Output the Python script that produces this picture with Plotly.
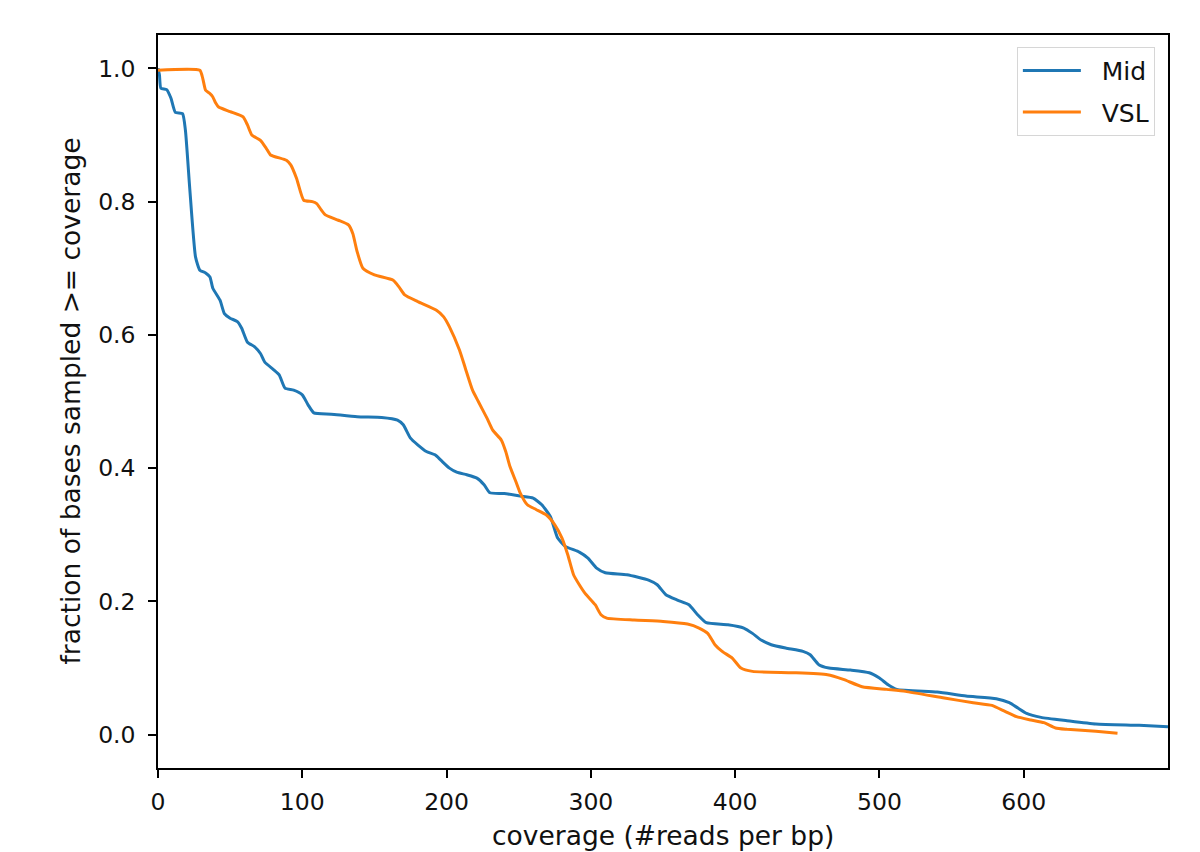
import plotly.graph_objects as go

mid_x = [0, 1, 2, 6, 9, 12, 17, 19, 22, 26, 29, 33, 36, 38, 43, 46, 50, 55, 58, 62, 67, 71, 74, 80, 84, 88, 94, 100, 104, 108, 120, 138, 155, 166, 170, 175, 180, 186, 192, 196, 202, 207, 214, 221, 226, 230, 240, 251, 260, 266, 272, 277, 282, 292, 298, 304, 310, 325, 340, 346, 352, 360, 368, 374, 380, 395, 406, 412, 418, 425, 435, 447, 452, 458, 465, 480, 493, 500, 506, 512, 540, 560, 581, 590, 596, 602, 612, 630, 650, 680, 700]
mid_y = [1.0, 0.99, 0.97, 0.968, 0.955, 0.934, 0.932, 0.907, 0.82, 0.717, 0.697, 0.693, 0.687, 0.67, 0.652, 0.632, 0.625, 0.62, 0.61, 0.589, 0.582, 0.572, 0.559, 0.548, 0.54, 0.52, 0.517, 0.51, 0.495, 0.483, 0.481, 0.477, 0.476, 0.472, 0.465, 0.445, 0.435, 0.425, 0.42, 0.412, 0.4, 0.394, 0.39, 0.385, 0.375, 0.363, 0.362, 0.358, 0.355, 0.345, 0.327, 0.295, 0.283, 0.274, 0.265, 0.25, 0.243, 0.24, 0.232, 0.225, 0.21, 0.202, 0.195, 0.18, 0.168, 0.165, 0.16, 0.152, 0.142, 0.135, 0.13, 0.125, 0.12, 0.105, 0.1, 0.097, 0.093, 0.085, 0.075, 0.068, 0.064, 0.058, 0.054, 0.048, 0.04, 0.032, 0.026, 0.021, 0.016, 0.014, 0.012]

vsl_x = [0, 29, 31, 33, 36, 38, 40, 42, 50, 59, 62, 65, 71, 75, 78, 89, 92, 96, 101, 107, 110, 113, 116, 125, 132, 135, 138, 142, 150, 163, 167, 171, 180, 193, 198, 202, 209, 213, 218, 222, 228, 232, 238, 241, 244, 248, 251, 256, 262, 269, 275, 280, 284, 288, 292, 296, 303, 307, 311, 330, 350, 367, 375, 381, 386, 391, 398, 404, 412, 440, 464, 475, 488, 505, 518, 545, 565, 578, 587, 595, 605, 614, 622, 630, 650, 665]
vsl_y = [0.997, 0.997, 0.985, 0.967, 0.962, 0.957, 0.948, 0.942, 0.935, 0.927, 0.915, 0.9, 0.892, 0.88, 0.87, 0.862, 0.855, 0.835, 0.802, 0.8, 0.797, 0.788, 0.78, 0.772, 0.765, 0.752, 0.725, 0.7, 0.69, 0.682, 0.672, 0.66, 0.65, 0.637, 0.627, 0.612, 0.577, 0.55, 0.517, 0.5, 0.475, 0.457, 0.442, 0.425, 0.402, 0.38, 0.363, 0.345, 0.338, 0.33, 0.315, 0.295, 0.27, 0.24, 0.225, 0.212, 0.195, 0.18, 0.175, 0.172, 0.17, 0.166, 0.16, 0.152, 0.135, 0.125, 0.115, 0.1, 0.095, 0.093, 0.09, 0.083, 0.072, 0.068, 0.065, 0.055, 0.048, 0.044, 0.035, 0.027, 0.022, 0.018, 0.01, 0.008, 0.005, 0.002]

x_ticks = [0, 100, 200, 300, 400, 500, 600]
y_ticks = [0.0, 0.2, 0.4, 0.6, 0.8, 1.0]
x_title = "coverage (#reads per bp)"
y_title = "fraction of bases sampled >= coverage"

FONT = "DejaVu Sans"
TXT = "#111111"
NBSP = "\u00a0"
fig = go.Figure()
fig.add_trace(go.Scatter(x=mid_x, y=mid_y, mode="lines", name=NBSP * 2 + "Mid", legendgroup="mid",
                         line=dict(color="#1f77b4", width=3, shape="spline", smoothing=0.5)))
fig.add_trace(go.Scatter(x=vsl_x, y=vsl_y, mode="lines", name=NBSP * 2 + "VSL", legendgroup="vsl",
                         line=dict(color="#ff7f0e", width=3, shape="spline", smoothing=0.5)))

axis_common = dict(showline=True, linecolor="black", linewidth=1.6, mirror=True,
                   ticks="outside", ticklen=8, tickwidth=1.6, tickcolor="black",
                   showgrid=False, zeroline=False, automargin=False,
                   tickfont=dict(family=FONT, size=23.5, color=TXT))
fig.update_xaxes(range=[0, 700], tickvals=x_ticks, ticktext=[str(v) for v in x_ticks],
                 ticklabelstandoff=4, **axis_common)
fig.update_yaxes(range=[-0.05, 1.05], tickvals=y_ticks, ticktext=[f"{v:.1f}" for v in y_ticks],
                 ticklabelstandoff=8, **axis_common)

title_font = dict(family=FONT, size=26.5, color=TXT)
fig.add_annotation(text=x_title, xref="paper", yref="paper", x=0.5, y=-0.0925,
                   xanchor="center", yanchor="middle", showarrow=False, font=title_font)
fig.add_annotation(text=y_title, xref="paper", yref="paper", x=-0.0871, y=0.5,
                   xanchor="center", yanchor="middle", textangle=-90, showarrow=False, font=title_font)

fig.update_layout(
    width=1200, height=852,
    margin=dict(l=158, r=32, t=35, b=84),
    plot_bgcolor="white", paper_bgcolor="white",
    font=dict(family=FONT, size=23.5, color=TXT),
    legend=dict(x=0.987, y=0.984, xanchor="right", yanchor="top",
                bordercolor="#d6d6d6", borderwidth=1, bgcolor="rgba(255,255,255,0.8)",
                font=dict(family=FONT, size=25, color=TXT),
                itemwidth=58, tracegroupgap=6),
    showlegend=True,
)

fig.write_html("out.html", config={"displayModeBar": False},
               post_script="document.body.style.margin='0';document.body.style.overflow='hidden';")
